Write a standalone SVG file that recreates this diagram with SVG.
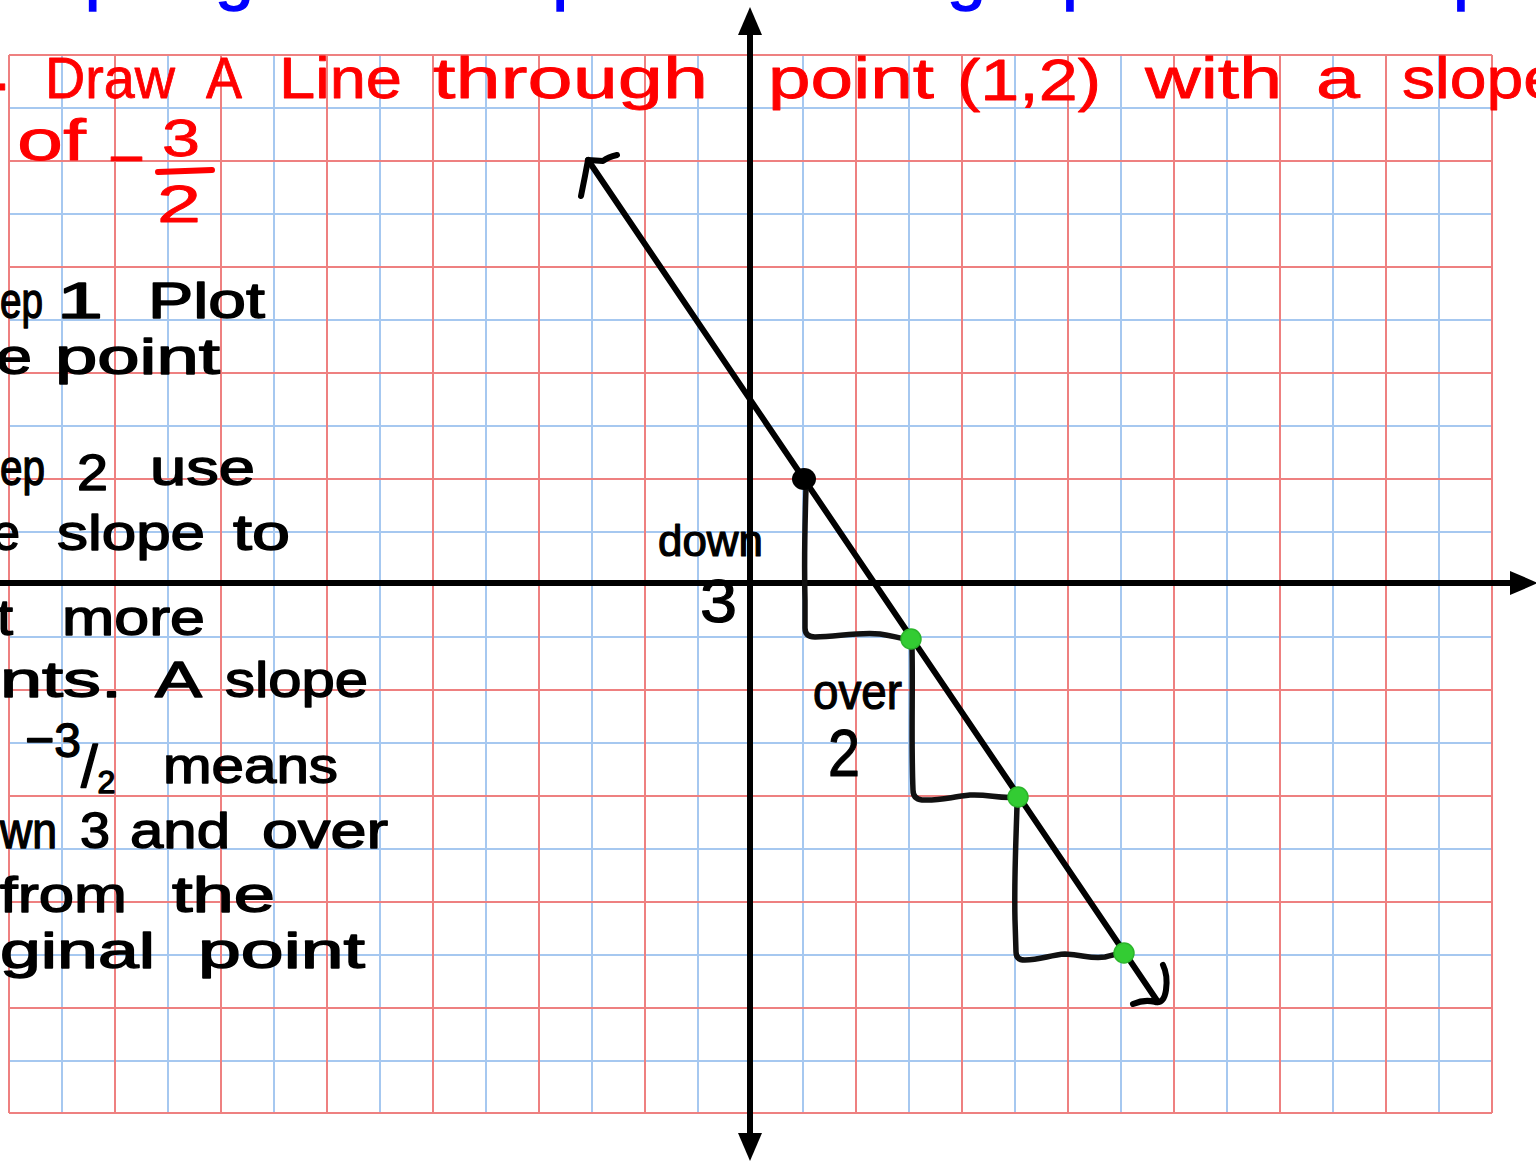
<svg xmlns="http://www.w3.org/2000/svg" width="1536" height="1164" viewBox="0 0 1536 1164">
<style>
.gb{stroke:#a6c8f0;stroke-width:2;fill:none}
.gr{stroke:#ee8080;stroke-width:2;fill:none}
.ax{stroke:#000;stroke-width:6;fill:none}
.ln{stroke:#000;stroke-width:6;fill:none;stroke-linecap:round;stroke-linejoin:round}
.st{stroke:#111;stroke-width:5.5;fill:none;stroke-linecap:round;stroke-linejoin:round}
.rt{font-family:"Liberation Sans",Arial,sans-serif;font-size:58px;fill:#ff0000;stroke:#ff0000;stroke-width:0.8;stroke-linejoin:round}
.bt{font-family:"Liberation Sans",Arial,sans-serif;font-size:50px;fill:#000;stroke:#000;stroke-width:1.4;stroke-linejoin:round}
.lt{font-family:"Liberation Sans",Arial,sans-serif;fill:#000;stroke:#000;stroke-width:1.2;stroke-linejoin:round}
.blu{font-family:"Liberation Sans",Arial,sans-serif;font-size:64px;fill:#0000ff;stroke:#0000ff;stroke-width:1.5}
.gp{fill:#33cc33;stroke:#2bb52b;stroke-width:1.5}
</style>
<defs>
<marker id="ah" viewBox="0 0 30 24" markerWidth="30" markerHeight="24" refX="2" refY="12" orient="auto-start-reverse" markerUnits="userSpaceOnUse">
<path d="M0,0 L28,12 L0,24 z" fill="#000"/>
</marker>
</defs>
<rect x="0" y="0" width="1536" height="1164" fill="#fff"/>
<g id="grid">
<path class="gb" d="M62,55V1113M168,55V1113M274,55V1113M380,55V1113M486,55V1113M592,55V1113M698,55V1113M803,55V1113M909,55V1113M1015,55V1113M1121,55V1113M1227,55V1113M1333,55V1113M1439,55V1113M9,108H1492M9,214H1492M9,320H1492M9,426H1492M9,532H1492M9,637H1492M9,743H1492M9,849H1492M9,955H1492M9,1061H1492"/>
<path class="gr" d="M9,55V1113M115,55V1113M221,55V1113M327,55V1113M433,55V1113M539,55V1113M645,55V1113M751,55V1113M856,55V1113M962,55V1113M1068,55V1113M1174,55V1113M1280,55V1113M1386,55V1113M1492,55V1113M9,55H1492M9,161H1492M9,267H1492M9,373H1492M9,479H1492M9,584H1492M9,690H1492M9,796H1492M9,902H1492M9,1008H1492M9,1113H1492"/>
</g>
<g id="title-top">
<text class="blu" x="-30" y="-2" textLength="1560" lengthAdjust="spacingAndGlyphs">Graphing Linear Equations Using a point and slope</text>
</g>
<g id="axes">
<path class="ax" d="M0,583H1512" marker-end="url(#ah)"/>
<path class="ax" d="M750,1135V33" marker-start="url(#ah)" marker-end="url(#ah)"/>
</g>
<g id="connectors">
<path id="line" class="ln" d="M588,160L1158,1002"/>
<path id="arrow-top" class="ln" d="M581,196L585,176L588,160L603,161Q608,157 617,155"/>
<path id="arrow-bottom" class="ln" d="M1163,965Q1168,975 1166,990Q1164,1004 1155,1002Q1145,999 1133,1004"/>
<path id="step-1" class="st" d="M806,488C805,520 804,560 805,600L805,628Q805,637 815,637C840,636 860,632 880,634C895,636 900,639 910,639"/>
<path id="step-2" class="st" d="M912,648C913,690 911,740 913,790Q913,799 922,800C940,801 950,797 970,795C990,794 998,799 1018,797"/>
<path id="step-3" class="st" d="M1017,806C1016,840 1014,880 1015,920L1016,952Q1016,960 1025,960C1040,960 1050,955 1065,954C1085,955 1090,959 1105,957C1115,955 1118,953 1124,953"/>
</g>
<g id="point-1-2"><ellipse cx="804" cy="479" rx="12" ry="11" fill="#000"/></g>
<g id="point-3-minus1"><circle class="gp" cx="911" cy="639" r="10"/></g>
<g id="point-5-minus4"><circle class="gp" cx="1018" cy="797" r="10"/></g>
<g id="point-7-minus7"><circle class="gp" cx="1124" cy="953" r="10"/></g>
<g id="heading">
<text class="rt" x="-6" y="90">.</text>
<text class="rt" x="45" y="98" textLength="130" lengthAdjust="spacingAndGlyphs">Draw</text>
<text class="rt" x="206" y="98" textLength="36" lengthAdjust="spacingAndGlyphs">A</text>
<text class="rt" x="279" y="98" textLength="123" lengthAdjust="spacingAndGlyphs">Line</text>
<text class="rt" x="433" y="98" textLength="275" lengthAdjust="spacingAndGlyphs">through</text>
<text class="rt" x="768" y="98" textLength="166" lengthAdjust="spacingAndGlyphs">point</text>
<text class="rt" x="957" y="100" textLength="144" lengthAdjust="spacingAndGlyphs">(1,2)</text>
<text class="rt" x="1145" y="98" textLength="137" lengthAdjust="spacingAndGlyphs">with</text>
<text class="rt" x="1316" y="98" textLength="44" lengthAdjust="spacingAndGlyphs">a</text>
<text class="rt" x="1402" y="98" textLength="158" lengthAdjust="spacingAndGlyphs">slope</text>
<text class="rt" x="17" y="160" textLength="69" lengthAdjust="spacingAndGlyphs">of</text>
<text class="rt" x="108" y="178" textLength="37" lengthAdjust="spacingAndGlyphs">−</text>
<text class="rt" x="162" y="156" style="font-size:52px" textLength="38" lengthAdjust="spacingAndGlyphs">3</text>
<path d="M158,172L212,170" stroke="#ff0000" stroke-width="6" stroke-linecap="round"/>
<text class="rt" x="157" y="222" style="font-size:52px" textLength="44" lengthAdjust="spacingAndGlyphs">2</text>
</g>
<g id="step-1-text">
<text class="bt" x="0" y="318"><tspan textLength="43" lengthAdjust="spacingAndGlyphs">ep</tspan><tspan x="57" textLength="46" lengthAdjust="spacingAndGlyphs">1</tspan><tspan x="148" textLength="117" lengthAdjust="spacingAndGlyphs">Plot</tspan></text>
<text class="bt" x="-4" y="374"><tspan textLength="36" lengthAdjust="spacingAndGlyphs">e</tspan><tspan x="55" textLength="165" lengthAdjust="spacingAndGlyphs">point</tspan></text>
</g>
<g id="step-2-text">
<text class="bt" x="0" y="485"><tspan textLength="45" lengthAdjust="spacingAndGlyphs">ep</tspan><tspan x="77" y="490" textLength="31" lengthAdjust="spacingAndGlyphs">2</tspan><tspan x="150" y="485" textLength="105" lengthAdjust="spacingAndGlyphs">use</tspan></text>
<text class="bt" x="-8" y="550"><tspan textLength="28" lengthAdjust="spacingAndGlyphs">e</tspan><tspan x="57" textLength="148" lengthAdjust="spacingAndGlyphs">slope</tspan><tspan x="233" textLength="57" lengthAdjust="spacingAndGlyphs">to</tspan></text>
<text class="bt" x="-3" y="635"><tspan textLength="16" lengthAdjust="spacingAndGlyphs">t</tspan><tspan x="62" textLength="143" lengthAdjust="spacingAndGlyphs">more</tspan></text>
<text class="bt" x="0" y="697"><tspan textLength="122" lengthAdjust="spacingAndGlyphs">nts.</tspan><tspan x="155" textLength="47" lengthAdjust="spacingAndGlyphs">A</tspan><tspan x="225" textLength="143" lengthAdjust="spacingAndGlyphs">slope</tspan></text>
<text class="bt" x="25" y="757">−<tspan style="font-size:48px">3</tspan><tspan dy="30" style="font-size:60px">/</tspan><tspan dy="6" style="font-size:32px">2</tspan><tspan x="163" y="783" textLength="175" lengthAdjust="spacingAndGlyphs">means</tspan></text>
<text class="bt" x="0" y="848"><tspan textLength="57" lengthAdjust="spacingAndGlyphs">wn</tspan><tspan x="80" textLength="30" lengthAdjust="spacingAndGlyphs">3</tspan><tspan x="130" textLength="100" lengthAdjust="spacingAndGlyphs">and</tspan><tspan x="262" textLength="126" lengthAdjust="spacingAndGlyphs">over</tspan></text>
<text class="bt" x="0" y="912"><tspan textLength="127" lengthAdjust="spacingAndGlyphs">from</tspan><tspan x="172" textLength="103" lengthAdjust="spacingAndGlyphs">the</tspan></text>
<text class="bt" x="0" y="968"><tspan textLength="155" lengthAdjust="spacingAndGlyphs">ginal</tspan><tspan x="198" textLength="167" lengthAdjust="spacingAndGlyphs">point</tspan></text>
</g>
<g id="label-down-3">
<text class="lt" x="658" y="556" style="font-size:44px" textLength="105" lengthAdjust="spacingAndGlyphs">down</text>
<text class="lt" x="700" y="622" style="font-size:62px" textLength="37" lengthAdjust="spacingAndGlyphs">3</text>
</g>
<g id="label-over-2">
<text class="lt" x="813" y="709" style="font-size:50px" textLength="89" lengthAdjust="spacingAndGlyphs">over</text>
<text class="lt" x="828" y="776" style="font-size:66px" textLength="32" lengthAdjust="spacingAndGlyphs">2</text>
</g>
</svg>
